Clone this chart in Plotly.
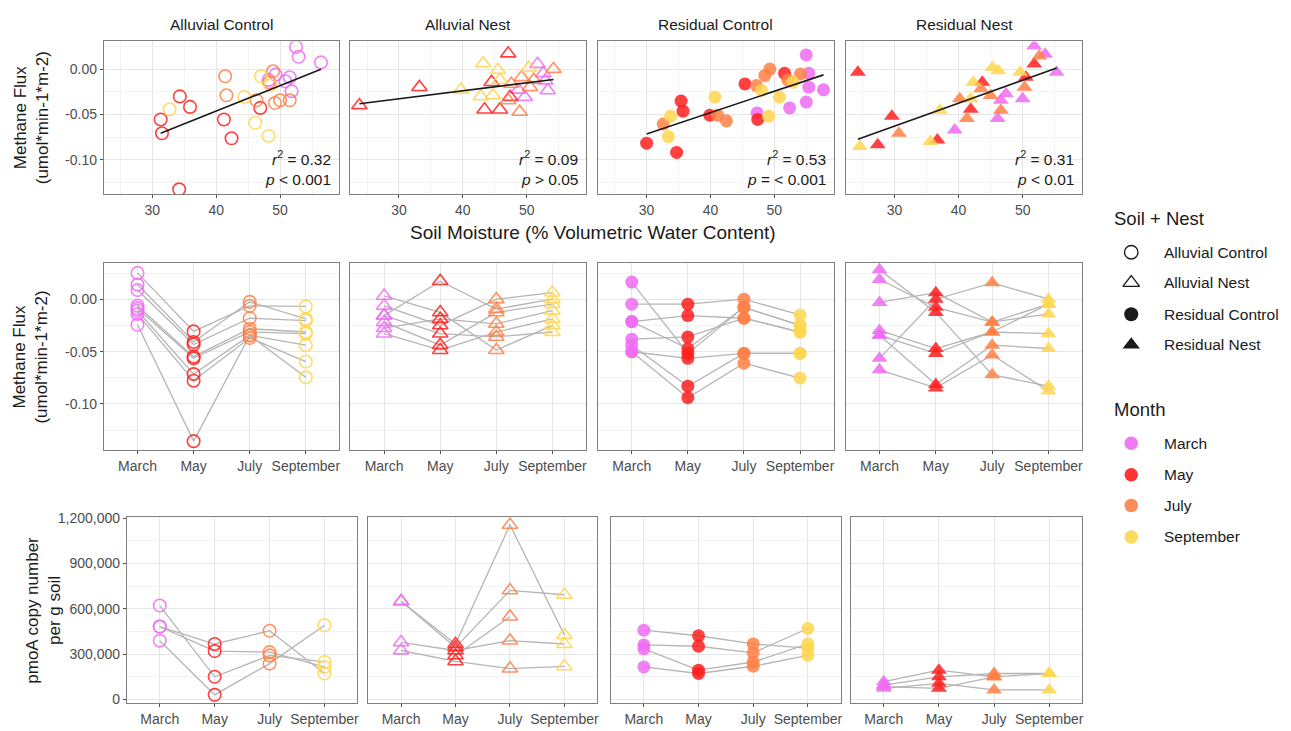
import numpy as np
import plotly.graph_objects as go

W, H = 1291, 731
FONT = "Arial, 'Liberation Sans', sans-serif"

panel_names = ["Alluvial Control", "Alluvial Nest", "Residual Control", "Residual Nest"]
months = ["March", "May", "July", "September"]
month_colors = ["#EE6CF2", "#FF1E1E", "#FF8046", "#FFD64F"]
panel_symbols = ["circle-open", "triangle-up-open", "circle", "triangle-up"]
panel_sizes = [12.5, 13.5, 13, 14]

# ---- soil moisture (% VWC) and methane flux per sample, keyed by month ----
ac_vwc = {
    "March": [52.5, 52.9, 56.4, 49.3, 51.5, 50.8, 51.8, 48.2],
    "May": [34.3, 35.9, 31.3, 31.5, 41.2, 42.4, 46.9, 34.2],
    "July": [41.4, 41.6, 48.9, 48.3, 49.2, 50.0, 51.5, 46.3],
    "September": [32.7, 44.4, 47.0, 48.5, 46.1, 48.2],
}
ac_flux = {
    "March": [0.0244, 0.0135, 0.0073, -0.0062, -0.0091, -0.0135, -0.0244, -0.0120],
    "May": [-0.0302, -0.0418, -0.0556, -0.0709, -0.0556, -0.0764, -0.0429, -0.1327],
    "July": [-0.0080, -0.0290, -0.0025, -0.0145, -0.0375, -0.0345, -0.0345, -0.0345],
    "September": [-0.0444, -0.0309, -0.0080, -0.0180, -0.0593, -0.0738],
}
an_vwc = {
    "March": [51.7, 52.6, 53.3, 49.7, 52.9, 48.7],
    "May": [23.8, 33.2, 47.1, 44.5, 43.4, 45.8, 47.4],
    "July": [54.2, 49.2, 48.9, 47.1, 51.1, 47.6, 50.5],
    "September": [43.2, 39.7, 50.3, 45.5, 45.8, 42.8, 44.7],
}
an_flux = {
    "March": [0.0055, -0.0047, -0.0236, -0.0309, -0.0127, -0.0229],
    "May": [-0.0400, -0.0200, 0.0171, -0.0145, -0.0447, -0.0447, -0.0309],
    "July": [0.0000, -0.0091, -0.0473, -0.0345, -0.0120, -0.0164, -0.0200],
    "September": [0.0062, -0.0229, 0.0011, -0.0011, -0.0120, -0.0302, -0.0291],
}
rc_vwc = {
    "March": [55.0, 55.4, 55.4, 57.7, 55.0, 52.4, 47.3],
    "May": [30.0, 34.7, 35.4, 35.7, 39.9, 45.4, 47.4, 51.6],
    "July": [32.6, 41.1, 42.5, 47.2, 48.5, 49.3, 54.1, 52.1],
    "September": [33.75, 33.4, 40.7, 48.0, 49.1, 50.8, 52.9],
}
rc_flux = {
    "March": [0.0156, -0.0047, -0.0200, -0.0229, -0.0364, -0.0429, -0.0484],
    "May": [-0.0818, -0.0920, -0.0353, -0.0465, -0.0509, -0.0164, -0.0556, -0.0047],
    "July": [-0.0607, -0.0509, -0.0571, -0.0182, -0.0073, 0.0000, -0.0055, -0.0120],
    "September": [-0.0520, -0.0745, -0.0309, -0.0236, -0.0520, -0.0309, -0.0145],
}
rn_vwc = {
    "March": [51.8, 53.5, 55.3, 47.4, 46.6, 50.0, 46.1, 39.4],
    "May": [24.3, 29.6, 27.4, 36.7, 43.7, 41.9, 51.8, 50.5],
    "July": [30.7, 40.2, 41.3, 45.0, 46.6, 52.6, 50.3, 43.5],
    "September": [24.6, 35.6, 37.1, 42.3, 45.3, 46.2, 49.6, 41.9],
}
rn_flux = {
    "March": [0.0255, 0.0164, -0.0036, -0.0273, -0.0345, -0.0327, -0.0545, -0.0673],
    "May": [-0.0036, -0.0520, -0.0836, -0.0782, -0.0145, -0.0444, 0.0055, -0.0091],
    "July": [-0.0709, -0.0327, -0.0545, -0.0291, -0.0455, 0.0145, -0.0200, -0.0218],
    "September": [-0.0855, -0.0800, -0.0455, -0.0145, 0.0018, -0.0018, -0.0036, -0.0327],
}
r2_text = ["0.32", "0.09", "0.53", "0.31"]
p_text = ["&lt; 0.001", "&gt; 0.05", "= &lt; 0.001", "&lt; 0.01"]

# ---- methane flux per site across months [March, May, July, September] ----
ac_flux_sites = [
    [0.0255, -0.0305, -0.0060, -0.0066],
    [0.0144, -0.0406, -0.0022, -0.0186],
    [0.0091, -0.0431, -0.0179, -0.0201],
    [-0.0060, -0.0547, -0.0280, -0.0311],
    [-0.0085, -0.0563, -0.0311, -0.0327],
    [-0.0107, -0.0714, -0.0343, -0.0437],
    [-0.0138, -0.0777, -0.0368, -0.0594],
    [-0.0242, -0.1356, -0.0343, -0.0745],
]
an_flux_sites = [
    [0.0035, -0.0123, -0.0484, -0.0248],
    [-0.0060, -0.0248, 0.0003, 0.0066],
    [-0.0154, 0.0176, -0.0091, 0.0003],
    [-0.0217, -0.0437, -0.0123, -0.0044],
    [-0.0274, -0.0186, -0.0233, -0.0107],
    [-0.0327, -0.0484, -0.0311, -0.0186],
    [-0.0154, -0.0327, -0.0358, -0.0311],
]
rc_flux_sites = [
    [0.0167, -0.0516, -0.0075, -0.0248],
    [-0.0044, -0.0044, 0.0003, -0.0148],
    [-0.0211, -0.0154, -0.0179, -0.0311],
    [-0.0211, -0.0469, -0.0075, -0.0248],
    [-0.0380, -0.0358, -0.0179, -0.0311],
    [-0.0500, -0.0563, -0.0516, -0.0516],
    [-0.0437, -0.0830, -0.0516, -0.0516],
    [-0.0500, -0.0940, -0.0610, -0.0752],
]
rn_flux_sites = [
    [0.0286, -0.0123, -0.0720, -0.0830],
    [0.0192, -0.0075, -0.0217, -0.0044],
    [-0.0028, 0.0066, -0.0217, -0.0138],
    [-0.0296, -0.0469, -0.0311, -0.0327],
    [-0.0343, -0.0814, -0.0437, -0.0469],
    [-0.0563, 0.0003, 0.0160, 0.0003],
    [-0.0673, -0.0846, -0.0531, -0.0877],
    [-0.0343, -0.0516, -0.0311, -0.0044],
]

# ---- pmoA copies per g soil per site across months ----
ac_pmoa_sites = [
    [621500, 150000, 291500, 248000],
    [482600, 320000, 313000, 215000],
    [482600, 367000, 454500, 171700],
    [389000, 30400, 237000, 491000],
]
an_pmoa_sites = [
    [650000, 367000, 1156000, 426000],
    [650000, 345000, 722000, 693000],
    [378000, 324000, 389000, 367000],
    [324000, 252000, 204000, 219000],
    [None, 291500, 548000, None],
]
rc_pmoa_sites = [
    [458700, 421700, 367400, 339100],
    [360900, 352200, 308700, 469600],
    [334800, 193500, 247800, 367400],
    [215200, 171800, 219600, 291300],
]
rn_pmoa_sites = [
    [117400, 193500, 150000, 171800],
    [95000, 150000, 171800, 171800],
    [73900, 106500, 63000, 63000],
    [85000, 73900, 150000, None],
]

vwc_sets = [ac_vwc, an_vwc, rc_vwc, rn_vwc]
flux_sets = [ac_flux, an_flux, rc_flux, rn_flux]
flux_site_sets = [ac_flux_sites, an_flux_sites, rc_flux_sites, rn_flux_sites]
pmoa_site_sets = [ac_pmoa_sites, an_pmoa_sites, rc_pmoa_sites, rn_pmoa_sites]

# ---- panel geometry (pixels) ----
top_cols = [(104, 340), (351, 587), (599, 835), (847, 1084)]
bot_cols = [(127, 358), (369, 598), (612, 842), (852, 1084)]
row_top = (35, 190)
row_mid = (260, 450)
row_bot = (518, 707)


def dom_x(a, b):
    return [a / W, b / W]


def dom_y(t, b):
    return [1 - b / H, 1 - t / H]


def axn(k):
    return ("x" if k == 1 else f"x{k}", "y" if k == 1 else f"y{k}")


fig = go.Figure()

GRID = "#E6E6E6"
MINOR = "#F3F3F3"
tickfont = dict(family=FONT, size=14, color="#4D4D4D")
frame = dict(showline=True, mirror=True, linecolor="#7F7F7F", linewidth=1,
             ticks="outside", ticklen=3, tickcolor="#4D4D4D", tickwidth=1,
             showgrid=True, gridcolor=GRID, gridwidth=1, zeroline=False,
             tickfont=tickfont, fixedrange=True)

layout_axes = {}
month_pos = [1, 2, 3, 4]

for i in range(4):
    color_sym = panel_symbols[i]
    is_open = color_sym.endswith("open")
    size = panel_sizes[i]

    def marker(c):
        return dict(symbol=color_sym, size=size, color=c, opacity=0.85,
                    line=dict(width=1.6 if is_open else 0, color=c))

    # --- top row: flux vs soil moisture ---
    k = i + 1
    xa, ya = axn(k)
    all_x, all_y = [], []
    for m, c in zip(months, month_colors):
        xs, ys = vwc_sets[i][m], flux_sets[i][m]
        all_x += xs
        all_y += ys
        fig.add_trace(go.Scatter(x=xs, y=ys, mode="markers", marker=marker(c),
                                 xaxis=xa, yaxis=ya, showlegend=False, hoverinfo="skip"))
    slope, icpt = np.polyfit(all_x, all_y, 1)
    fx = np.array([min(all_x), max(all_x)])
    fig.add_trace(go.Scatter(x=fx, y=slope * fx + icpt, mode="lines",
                             line=dict(color="#1A1A1A", width=1.6),
                             xaxis=xa, yaxis=ya, showlegend=False, hoverinfo="skip"))
    layout_axes[xa.replace("x", "xaxis")] = dict(
        frame, domain=dom_x(*top_cols[i]), range=[22.4, 59.3], anchor=ya,
        tickmode="array", tickvals=[30, 40, 50],
        minor=dict(showgrid=True, gridcolor=MINOR, tick0=0, dtick=5))
    layout_axes[ya.replace("y", "yaxis")] = dict(
        frame, domain=dom_y(*row_top), range=[-0.138, 0.0304], anchor=xa,
        tickmode="array", tickvals=[0, -0.05, -0.10], ticktext=["0.00", "-0.05", "-0.10"],
        showticklabels=(i == 0), ticks="outside" if i == 0 else "",
        minor=dict(showgrid=True, gridcolor=MINOR, tick0=0.025, dtick=0.05))

    # --- middle row: flux by month, sites joined ---
    k = i + 5
    xa, ya = axn(k)
    for site in flux_site_sets[i]:
        fig.add_trace(go.Scatter(x=month_pos, y=site, mode="lines",
                                 line=dict(color="#B5B5B5", width=1.3),
                                 xaxis=xa, yaxis=ya, showlegend=False, hoverinfo="skip"))
    for j, c in enumerate(month_colors):
        vals = [s[j] for s in flux_site_sets[i] if s[j] is not None]
        fig.add_trace(go.Scatter(x=[month_pos[j]] * len(vals), y=vals, mode="markers",
                                 marker=marker(c), xaxis=xa, yaxis=ya,
                                 showlegend=False, hoverinfo="skip"))
    layout_axes[xa.replace("x", "xaxis")] = dict(
        frame, domain=dom_x(*top_cols[i]), range=[0.4, 4.6], anchor=ya,
        tickmode="array", tickvals=month_pos, ticktext=months)
    layout_axes[ya.replace("y", "yaxis")] = dict(
        frame, domain=dom_y(*row_mid), range=[-0.1443, 0.0349], anchor=xa,
        tickmode="array", tickvals=[0, -0.05, -0.10], ticktext=["0.00", "-0.05", "-0.10"],
        showticklabels=(i == 0), ticks="outside" if i == 0 else "",
        minor=dict(showgrid=True, gridcolor=MINOR, tick0=0.025, dtick=0.05))

    # --- bottom row: pmoA by month, sites joined ---
    k = i + 9
    xa, ya = axn(k)
    for site in pmoa_site_sets[i]:
        fig.add_trace(go.Scatter(x=month_pos, y=site, mode="lines",
                                 line=dict(color="#B5B5B5", width=1.3),
                                 xaxis=xa, yaxis=ya, showlegend=False, hoverinfo="skip"))
    for j, c in enumerate(month_colors):
        vals = [s[j] for s in pmoa_site_sets[i] if s[j] is not None]
        fig.add_trace(go.Scatter(x=[month_pos[j]] * len(vals), y=vals, mode="markers",
                                 marker=marker(c), xaxis=xa, yaxis=ya,
                                 showlegend=False, hoverinfo="skip"))
    layout_axes[xa.replace("x", "xaxis")] = dict(
        frame, domain=dom_x(*bot_cols[i]), range=[0.4, 4.6], anchor=ya,
        tickmode="array", tickvals=month_pos, ticktext=months)
    layout_axes[ya.replace("y", "yaxis")] = dict(
        frame, domain=dom_y(*row_bot), range=[-26000, 1206500], anchor=xa,
        tickmode="linear", tick0=0, dtick=300000, tickformat=",",
        showticklabels=(i == 0), ticks="outside" if i == 0 else "",
        minor=dict(showgrid=True, gridcolor=MINOR, tick0=150000, dtick=300000))

# ---- legend drawn on an overlay axis in pixel units ----
xa, ya = axn(13)
layout_axes["xaxis13"] = dict(domain=[0, 1], range=[0, W], visible=False, fixedrange=True, anchor=ya)
layout_axes["yaxis13"] = dict(domain=[0, 1], range=[H, 0], visible=False, fixedrange=True, anchor=xa)

soil_labels = ["Alluvial Control", "Alluvial Nest", "Residual Control", "Residual Nest"]
soil_rows = [249, 280, 312, 343]
month_rows = [443, 475, 506, 538]
key_x = 1133
for lab, yy, sym, sz in zip(soil_labels, soil_rows, panel_symbols, panel_sizes):
    fig.add_trace(go.Scatter(x=[key_x], y=[yy], mode="markers",
                             marker=dict(symbol=sym, size=sz + 1, color="#1A1A1A",
                                         line=dict(width=1.3 if sym.endswith("open") else 0,
                                                   color="#1A1A1A")),
                             xaxis=xa, yaxis=ya, showlegend=False, hoverinfo="skip"))
for lab, yy, c in zip(months, month_rows, month_colors):
    fig.add_trace(go.Scatter(x=[key_x], y=[yy], mode="markers",
                             marker=dict(symbol="circle", size=13.5, color=c, opacity=0.9),
                             xaxis=xa, yaxis=ya, showlegend=False, hoverinfo="skip"))

ann = []


def text(x, y, s, size, xanchor="center", color="#1A1A1A", textangle=0, yanchor="middle"):
    ann.append(dict(x=x / W, y=1 - y / H, xref="paper", yref="paper", text=s,
                    showarrow=False, xanchor=xanchor, yanchor=yanchor, textangle=textangle,
                    font=dict(family=FONT, size=size, color=color)))


for lab, yy in zip(soil_labels, soil_rows):
    text(1164, yy, lab, 15.5, xanchor="left")
for lab, yy in zip(months, month_rows):
    text(1164, yy, lab, 15.5, xanchor="left")
text(1114, 215, "Soil + Nest", 18.5, xanchor="left")
text(1114, 409, "Month", 18.5, xanchor="left")

for i, name in enumerate(panel_names):
    a, b = top_cols[i]
    text((a + b) / 2, 18, name, 15.5)
    text(b - 6, 153, f"<i>r</i><sup>2</sup> = {r2_text[i]}", 15.5, xanchor="right")
    text(b - 6, 175, f"<i>p</i> {p_text[i]}", 15.5, xanchor="right")

text(594, 229, "Soil Moisture (% Volumetric Water Content)", 19)
text(31, 112, "Methane Flux<br>(umol*min-1*m-2)", 17, textangle=-90)
text(31, 355, "Methane Flux<br>(umol*min-1*m-2)", 17, textangle=-90)
text(44, 612, "pmoA copy number<br>per g soil", 17, textangle=-90)

fig.update_layout(
    width=W, height=H, margin=dict(l=0, r=0, t=0, b=0),
    paper_bgcolor="white", plot_bgcolor="rgba(0,0,0,0)",
    font=dict(family=FONT, color="#1A1A1A"),
    annotations=ann, showlegend=False,
    **layout_axes,
)

fig.write_html("out.html")
